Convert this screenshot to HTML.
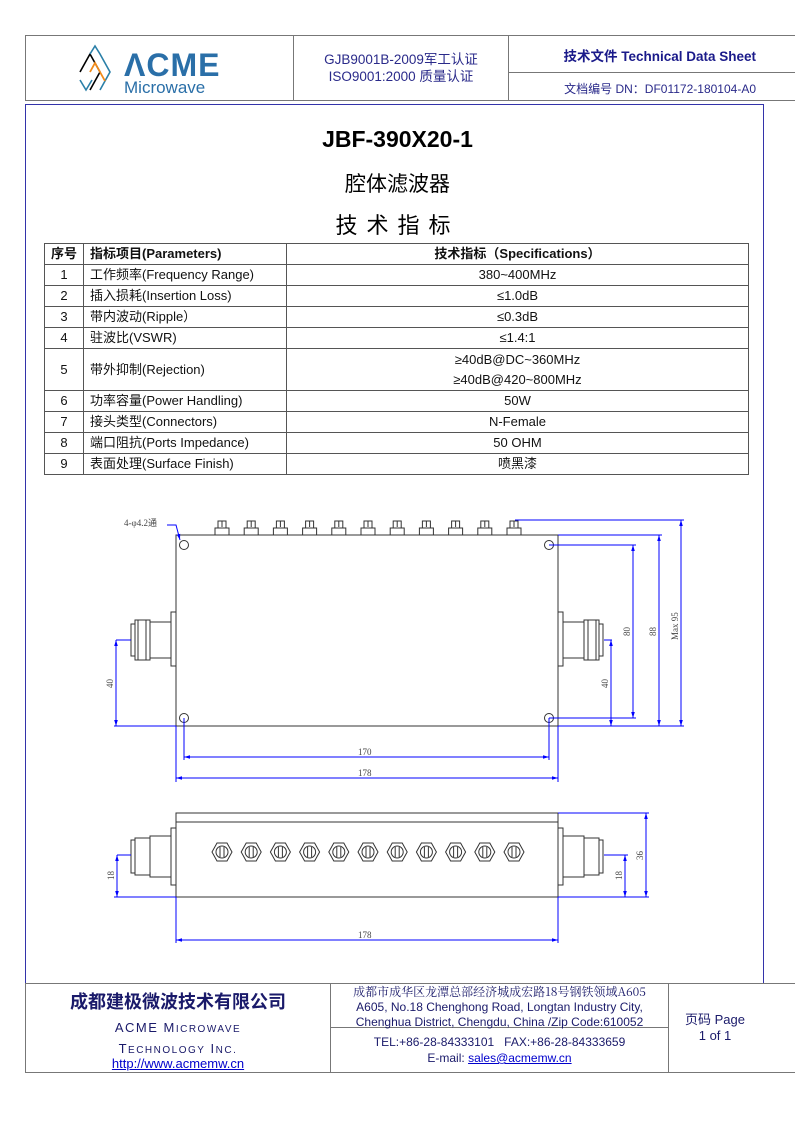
<!DOCTYPE html>
<html><head><meta charset="utf-8"><style>
body{margin:0;width:795px;height:1122px;background:#fff;position:relative;font-family:"Liberation Sans","Noto Sans CJK SC",sans-serif;overflow:hidden}
.a{position:absolute}
table{border-collapse:collapse;position:absolute;left:44px;top:243px;width:705px;font-size:13px;color:#111;table-layout:fixed}
td{border:1px solid #555;height:20px;padding:0 6px;text-align:center;line-height:20px;white-space:nowrap;overflow:hidden}
td.l{text-align:left}
</style></head><body>
<!-- header -->
<div class="a" style="left:25px;top:35px;width:770px;height:66px;border:1px solid #777;border-right:none;box-sizing:border-box"></div>
<div class="a" style="left:293px;top:35px;width:1px;height:66px;background:#777"></div>
<div class="a" style="left:508px;top:35px;width:1px;height:66px;background:#777"></div>
<div class="a" style="left:508px;top:72px;width:287px;height:1px;background:#777"></div>
<svg class="a" style="left:78px;top:42px" width="160" height="54">
<polyline points="2,30 12,12 22,30 12,48" fill="none" stroke="#000" stroke-width="1.6"/>
<polyline points="12,12 17,4 22,12 32,30 22,48" fill="none" stroke="#2a7fa8" stroke-width="1.6"/>
<polyline points="12,30 17,21 22,30 27,39" fill="none" stroke="#f08a1a" stroke-width="1.8"/>
<polyline points="2,38 8,48 14,38" fill="none" stroke="#2a7fa8" stroke-width="1.6"/>
<text x="46" y="34" font-family="Liberation Sans" font-size="32" fill="#2a6fa8" letter-spacing="1" font-weight="bold">ΛCME</text>
<text x="46" y="51" font-family="Liberation Sans" font-size="17" fill="#2a6fa8">Microwave</text>
</svg>
<div class="a" style="left:294px;top:51px;width:214px;text-align:center;font-size:13.5px;color:#2a2a8a;line-height:17px">GJB9001B-2009军工认证<br>ISO9001:2000 质量认证</div>
<div class="a" style="left:510px;top:45px;width:246px;text-align:right;font-size:13.5px;color:#1a1a8a;font-weight:bold">技术文件 Technical Data Sheet</div>
<div class="a" style="left:510px;top:80px;width:246px;text-align:right;font-size:12px;color:#2a2a8a">文档编号 DN：DF01172-180104-A0</div>
<!-- main blue box -->
<div class="a" style="left:25px;top:104px;width:739px;height:880px;border:1.5px solid #3333aa;box-sizing:border-box"></div>
<div class="a" style="left:0;top:126px;width:795px;text-align:center;font-size:23px;font-weight:bold;color:#000">JBF-390X20-1</div>
<div class="a" style="left:0;top:168px;width:795px;text-align:center;font-size:21px;color:#000">腔体滤波器</div>
<div class="a" style="left:0;top:208px;width:795px;text-align:center;font-size:22px;color:#000;letter-spacing:9px">技术指标</div>
<table>
<colgroup><col style="width:39px"><col style="width:203px"><col></colgroup>
<tr><td style="font-weight:bold;padding:0">序号</td><td class="l" style="font-weight:bold">指标项目(Parameters)</td><td style="font-weight:bold">技术指标（Specifications）</td></tr>
<tr><td>1</td><td class="l">工作频率(Frequency Range)</td><td>380~400MHz</td></tr>
<tr><td>2</td><td class="l">插入损耗(Insertion Loss)</td><td>≤1.0dB</td></tr>
<tr><td>3</td><td class="l">带内波动(Ripple）</td><td>≤0.3dB</td></tr>
<tr><td>4</td><td class="l">驻波比(VSWR)</td><td>≤1.4:1</td></tr>
<tr><td style="height:41px">5</td><td class="l">带外抑制(Rejection)</td><td>≥40dB@DC~360MHz<br>≥40dB@420~800MHz</td></tr>
<tr><td>6</td><td class="l">功率容量(Power Handling)</td><td>50W</td></tr>
<tr><td>7</td><td class="l">接头类型(Connectors)</td><td>N-Female</td></tr>
<tr><td>8</td><td class="l">端口阻抗(Ports Impedance)</td><td>50 OHM</td></tr>
<tr><td>9</td><td class="l">表面处理(Surface Finish)</td><td>喷黑漆</td></tr>
</table>
<svg class="a" style="left:0;top:0" width="795" height="1122" font-family="Liberation Serif" font-size="9">
<defs><marker id="ar" viewBox="0 0 10 10" refX="10" refY="5" markerWidth="6" markerHeight="6" orient="auto-start-reverse"><path d="M0,2 L10,5 L0,8z" fill="#00f"/></marker></defs>
<g fill="none" stroke="#333" stroke-width="1">
<rect x="176" y="535" width="382" height="191"/>
<circle cx="184" cy="545" r="4.5"/><circle cx="549" cy="545" r="4.5"/><circle cx="184" cy="718" r="4.5"/><circle cx="549" cy="718" r="4.5"/>
<g id="sc"><rect x="215" y="528" width="14" height="7"/><rect x="218" y="521" width="8" height="7"/><line x1="222" y1="521" x2="222" y2="527"/></g>
<use href="#sc" x="29.2"/><use href="#sc" x="58.4"/><use href="#sc" x="87.6"/><use href="#sc" x="116.8"/><use href="#sc" x="146"/><use href="#sc" x="175.2"/><use href="#sc" x="204.4"/><use href="#sc" x="233.6"/><use href="#sc" x="262.8"/><use href="#sc" x="292"/>
<g id="cl"><rect x="171" y="612" width="5" height="54"/><rect x="150" y="622" width="21" height="36"/><rect x="135" y="620" width="15" height="40"/><rect x="131" y="624" width="4" height="32"/><line x1="138" y1="620" x2="138" y2="660"/><line x1="146" y1="620" x2="146" y2="660"/></g>
<use href="#cl" transform="translate(734,0) scale(-1,1)"/>
<rect x="176" y="813" width="382" height="84"/><line x1="176" y1="822" x2="558" y2="822"/>
<g id="cs"><rect x="171" y="828" width="5" height="57"/><rect x="150" y="836" width="21" height="41"/><rect x="135" y="838" width="15" height="37"/><rect x="131" y="840" width="4" height="33"/></g>
<use href="#cs" transform="translate(734,0) scale(-1,1)"/>
<g id="hx"><polygon points="212,852 217,843 227,843 232,852 227,861 217,861"/><circle cx="222" cy="852" r="6"/><line x1="220" y1="847" x2="220" y2="857"/><line x1="224" y1="847" x2="224" y2="857"/></g>
<use href="#hx" x="29.2"/><use href="#hx" x="58.4"/><use href="#hx" x="87.6"/><use href="#hx" x="116.8"/><use href="#hx" x="146"/><use href="#hx" x="175.2"/><use href="#hx" x="204.4"/><use href="#hx" x="233.6"/><use href="#hx" x="262.8"/><use href="#hx" x="292"/>
</g>
<g stroke="#00f" stroke-width="1" fill="none">
<line x1="116" y1="640" x2="131" y2="640"/><line x1="114" y1="726" x2="176" y2="726"/>
<line x1="515" y1="520" x2="684" y2="520"/><line x1="558" y1="535" x2="662" y2="535"/>
<line x1="549" y1="545" x2="636" y2="545"/><line x1="549" y1="718" x2="636" y2="718"/>
<line x1="558" y1="726" x2="684" y2="726"/><line x1="604" y1="640" x2="612" y2="640"/>
<line x1="184" y1="718" x2="184" y2="760"/><line x1="549" y1="718" x2="549" y2="760"/>
<line x1="176" y1="726" x2="176" y2="782"/><line x1="558" y1="726" x2="558" y2="782"/>
<line x1="116" y1="640" x2="116" y2="726" marker-start="url(#ar)" marker-end="url(#ar)"/>
<line x1="611" y1="640" x2="611" y2="726" marker-start="url(#ar)" marker-end="url(#ar)"/>
<line x1="633" y1="545" x2="633" y2="718" marker-start="url(#ar)" marker-end="url(#ar)"/>
<line x1="659" y1="535" x2="659" y2="726" marker-start="url(#ar)" marker-end="url(#ar)"/>
<line x1="681" y1="520" x2="681" y2="726" marker-start="url(#ar)" marker-end="url(#ar)"/>
<line x1="184" y1="757" x2="549" y2="757" marker-start="url(#ar)" marker-end="url(#ar)"/>
<line x1="176" y1="778" x2="558" y2="778" marker-start="url(#ar)" marker-end="url(#ar)"/>
<polyline points="167,525 176,525 180,540" marker-end="url(#ar)"/>
<line x1="114" y1="897" x2="176" y2="897"/><line x1="117" y1="855" x2="131" y2="855"/>
<line x1="558" y1="813" x2="649" y2="813"/><line x1="558" y1="897" x2="649" y2="897"/><line x1="604" y1="855" x2="628" y2="855"/>
<line x1="117" y1="855" x2="117" y2="897" marker-start="url(#ar)" marker-end="url(#ar)"/>
<line x1="625" y1="855" x2="625" y2="897" marker-start="url(#ar)" marker-end="url(#ar)"/>
<line x1="646" y1="813" x2="646" y2="897" marker-start="url(#ar)" marker-end="url(#ar)"/>
<line x1="176" y1="897" x2="176" y2="943"/><line x1="558" y1="897" x2="558" y2="943"/>
<line x1="176" y1="940" x2="558" y2="940" marker-start="url(#ar)" marker-end="url(#ar)"/>
</g>
<g fill="#444">
<text x="124" y="526">4-φ4.2通</text>
<text x="358" y="755">170</text><text x="358" y="776">178</text><text x="358" y="938">178</text>
<text transform="translate(113,688) rotate(-90)">40</text>
<text transform="translate(608,688) rotate(-90)">40</text>
<text transform="translate(630,636) rotate(-90)">80</text>
<text transform="translate(656,636) rotate(-90)">88</text>
<text transform="translate(678,640) rotate(-90)">Max 95</text>
<text transform="translate(114,880) rotate(-90)">18</text>
<text transform="translate(622,880) rotate(-90)">18</text>
<text transform="translate(643,860) rotate(-90)">36</text>
</g>
</svg>
<!-- footer -->
<div class="a" style="left:25px;top:983px;width:770px;height:90px;border:1px solid #777;border-right:none;box-sizing:border-box"></div>
<div class="a" style="left:330px;top:983px;width:1px;height:90px;background:#777"></div>
<div class="a" style="left:668px;top:983px;width:1px;height:90px;background:#777"></div>
<div class="a" style="left:330px;top:1027px;width:338px;height:1px;background:#777"></div>
<div class="a" style="left:26px;top:988px;width:304px;text-align:center;font-size:18px;font-weight:bold;color:#1a1a6a">成都建极微波技术有限公司</div>
<div class="a" style="left:26px;top:1018px;width:304px;text-align:center;font-size:13px;color:#1a1a6a;letter-spacing:1.5px;line-height:19px">ACME M<span style="font-size:10px">ICROWAVE</span><br>T<span style="font-size:10px">ECHNOLOGY</span> I<span style="font-size:10px">NC.</span></div>
<div class="a" style="left:26px;top:1056px;width:304px;text-align:center;font-size:13px;color:#0000cc;text-decoration:underline">http://www.acmemw.cn</div>
<div class="a" style="left:331px;top:984px;width:337px;text-align:center;font-size:12px;color:#1a1a6a;line-height:15px"><span style="font-family:'Noto Serif CJK SC',serif">成都市成华区龙潭总部经济城成宏路18号钢铁领域A605</span><br>A605, No.18 Chenghong Road, Longtan Industry City,<br>Chenghua District, Chengdu, China /Zip Code:610052</div>
<div class="a" style="left:331px;top:1034px;width:337px;text-align:center;font-size:12px;color:#1a1a6a;line-height:16px">TEL:+86-28-84333101&nbsp;&nbsp;&nbsp;FAX:+86-28-84333659<br>E-mail: <span style="color:#0000cc;text-decoration:underline">sales@acmemw.cn</span></div>
<div class="a" style="left:669px;top:1012px;width:92px;text-align:center;font-size:13px;color:#1a1a6a;line-height:16px">页码 Page<br>1 of 1</div>
</body></html>
